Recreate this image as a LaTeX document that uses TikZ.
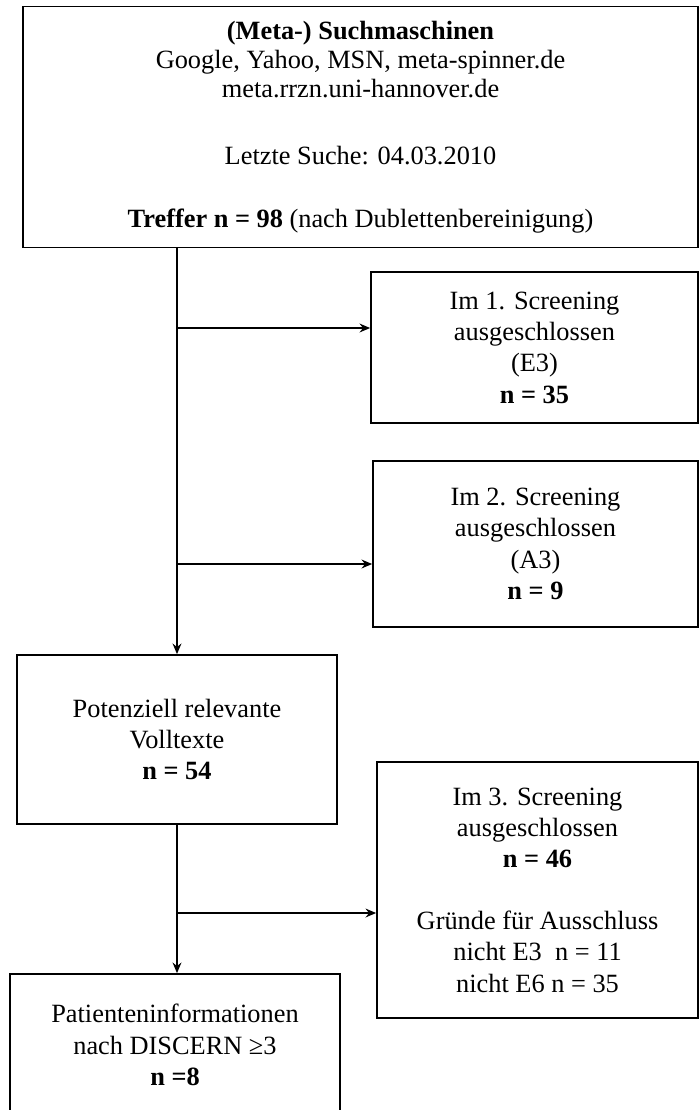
\documentclass[tikz,border=0pt]{standalone}
\usepackage{fontspec}
\setmainfont{Liberation Serif}
\usetikzlibrary{positioning,arrows.meta}
\begin{document}
\begin{tikzpicture}[
  x=0.02cm, y=-0.02cm,
  box/.style={draw, line width=1pt, inner sep=0pt, minimum width=#1,
              align=center, font=\fontsize{15}{17.8}\selectfont},
  dep/.style={->, line width=1pt, >={Stealth[length=6pt,width=5pt]}}
]
  \useasboundingbox (0,0) rectangle (700,1110);
  \clip (0,0) rectangle (700,1110);

  %-- Suche
  \node[box=13.5cm, minimum height=4.82cm, font=\fontsize{15}{16.5}\selectfont]
        (such) at (360.5,127)
        {\textbf{(Meta-) Suchmaschinen}\\Google, Yahoo, MSN, meta-spinner.de\\meta.rrzn.uni-hannover.de\\[22pt]
         Letzte Suche: 04.03.2010\\[19pt]\textbf{Treffer n = 98} (nach Dublettenbereinigung)};

  %-- Ausschluss
  \node[box=6.54cm, minimum height=3.02cm] (scr1) at (534.5,347.5)
        {Im 1. Screening\\ausgeschlossen\\(E3)\\\textbf{n = 35}};
  \node[box=6.5cm,  minimum height=3.32cm] (scr2) at (535.5,544)
        {Im 2. Screening\\ausgeschlossen\\(A3)\\\textbf{n = 9}};
  \node[box=6.42cm, minimum height=5.12cm] (scr3) at (537.5,890)
        {Im 3. Screening\\ausgeschlossen\\\textbf{n = 46}\\[17.5pt]
         Gründe für Ausschluss\\nicht E3~ n = 11\\nicht E6 n = 35};

  %-- Volltexte
  \node[box=6.4cm, minimum height=3.38cm] (voll) at (177,739.5)
        {Potenziell relevante\\Volltexte\\\textbf{n = 54}};
  \node[box=6.6cm, minimum height=2.84cm] (pat)  at (175,1045)
        {Patienteninformationen\\nach DISCERN ≥3\\\textbf{n =8}};

  %-- Verzweigungen
  \coordinate (b1) at (177,328);
  \coordinate (b2) at (177,564);
  \coordinate (b3) at (177,913);

  %-- Pfeile
  \draw[dep] (such.south -| voll.north) -- (voll.north);
  \draw[dep] (voll.south) -- (voll.south |- pat.north);
  \draw[dep] (b1) -- (b1 -| scr1.west);
  \draw[dep] (b2) -- (b2 -| scr2.west);
  \draw[dep] (b3) -- (b3 -| scr3.west);
\end{tikzpicture}
\end{document}
